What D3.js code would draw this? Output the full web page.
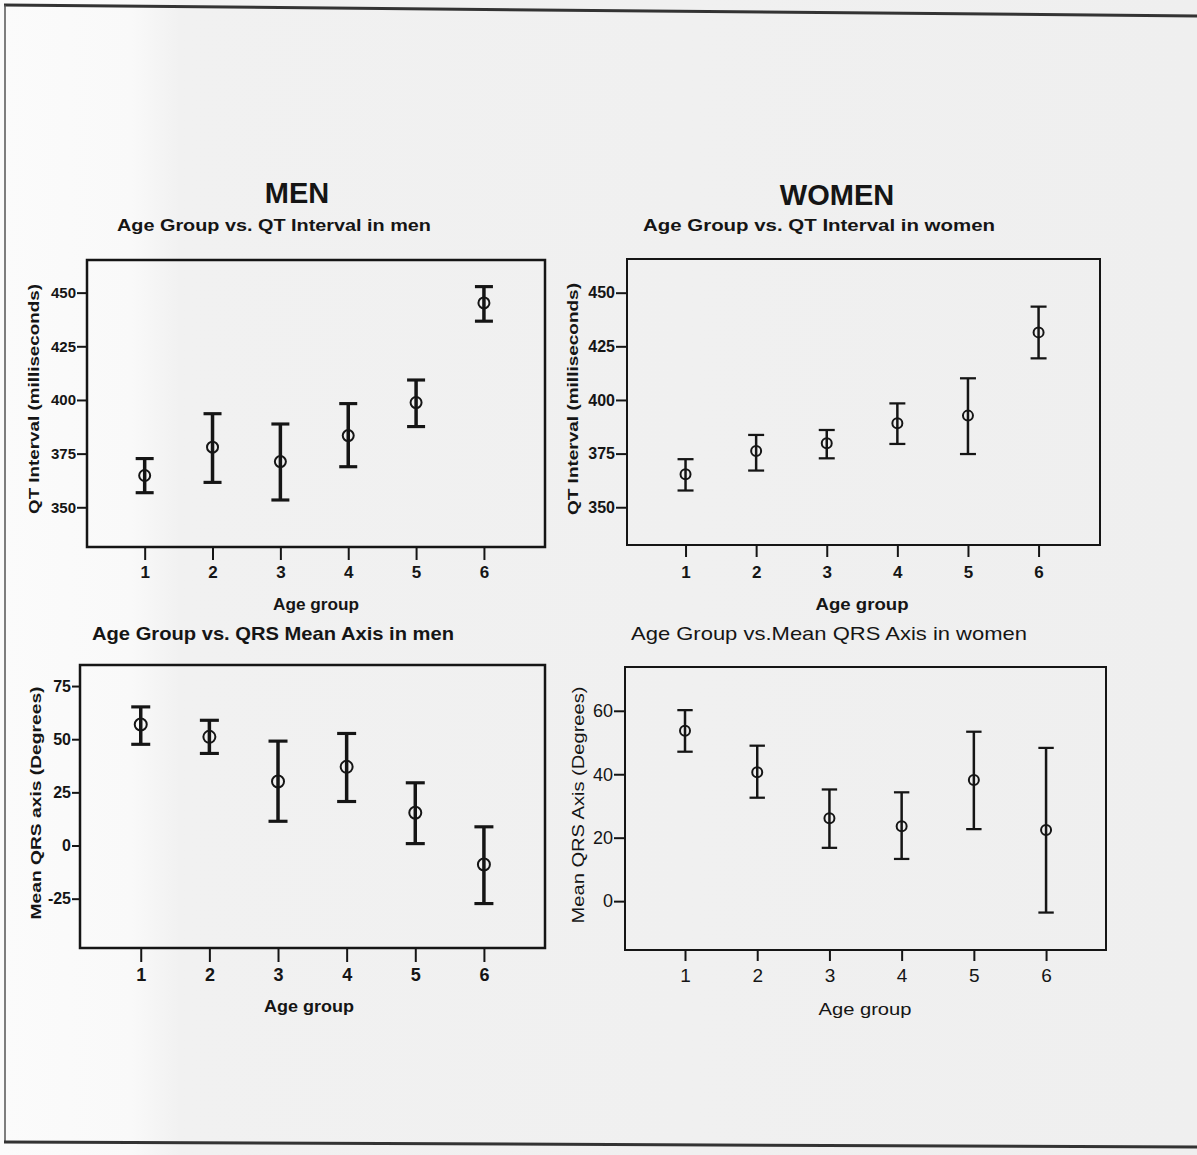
<!DOCTYPE html>
<html>
<head>
<meta charset="utf-8">
<script src="https://cdn.jsdelivr.net/npm/d3@7"></script>
<style>
  body { margin: 0; background: #f3f3f3; }
  svg { display: block; font-family: "Liberation Sans", Arial, sans-serif; }
</style>
</head>
<body>
<svg id="page" width="1197" height="1155"></svg>
<script>
// x categories
var ageGroups = [1, 2, 3, 4, 5, 6];

// QT interval (milliseconds), mean and error bar ends
var qtMenMean = [364.8, 378.0, 371.3, 383.4, 398.8, 445.2];
var qtMenLow = [356.8, 361.6, 353.4, 368.9, 387.6, 436.7];
var qtMenHigh = [372.7, 393.6, 388.8, 398.3, 409.3, 452.8];

var qtWomenMean = [365.4, 376.2, 379.8, 389.1, 392.7, 431.5];
var qtWomenLow = [357.8, 367.1, 372.8, 379.5, 374.8, 419.4];
var qtWomenHigh = [372.4, 383.7, 386.0, 398.4, 410.1, 443.5];

// mean QRS axis (degrees)
var qrsMenMean = [56.9, 51.1, 30.1, 37.0, 15.4, -8.9];
var qrsMenLow = [47.6, 43.3, 11.4, 20.7, 0.9, -27.3];
var qrsMenHigh = [65.2, 58.9, 49.1, 52.7, 29.5, 8.8];

var qrsWomenMean = [53.7, 40.6, 26.1, 23.6, 38.2, 22.4];
var qrsWomenLow = [47.1, 32.6, 16.8, 13.3, 22.7, -3.6];
var qrsWomenHigh = [60.2, 49.0, 35.2, 34.3, 53.4, 48.3];

// tick labels
var qtTicks = [350, 375, 400, 425, 450];
var qrsMenTicks = [-25, 0, 25, 50, 75];
var qrsWomenTicks = [0, 20, 40, 60];

var svg = d3.select("#page");
var ink = "#151515";

// scanned page background + frame
var defs = svg.append("defs");
var grad = defs.append("linearGradient").attr("id", "paper");
grad.append("stop").attr("offset", "0").attr("stop-color", "#fbfbfb");
grad.append("stop").attr("offset", "0.11").attr("stop-color", "#f9f9f9");
grad.append("stop").attr("offset", "0.15").attr("stop-color", "#f1f1f1");
grad.append("stop").attr("offset", "1").attr("stop-color", "#efefef");
svg.append("rect").attr("width", 1197).attr("height", 1155).attr("fill", "url(#paper)");
svg.append("line").attr("x1", 4).attr("y1", 5).attr("x2", 1197).attr("y2", 16)
    .attr("stroke", "#333").attr("stroke-width", 3);
svg.append("line").attr("x1", 5).attr("y1", 5).attr("x2", 5).attr("y2", 1143)
    .attr("stroke", "#555").attr("stroke-width", 1.5);
svg.append("line").attr("x1", 4).attr("y1", 1142).attr("x2", 1197).attr("y2", 1147)
    .attr("stroke", "#333").attr("stroke-width", 3);

// group headings
svg.append("text").attr("x", 297).attr("y", 203).attr("text-anchor", "middle")
    .attr("font-size", 29).attr("font-weight", "bold").attr("fill", ink).text("MEN");
svg.append("text").attr("x", 837).attr("y", 205).attr("text-anchor", "middle")
    .attr("font-size", 29).attr("font-weight", "bold").attr("fill", ink).text("WOMEN");

var panels = [
    {
        mean: qtMenMean, low: qtMenLow, high: qtMenHigh, yTicks: qtTicks,
        box: [87, 260, 545, 547], xDom: [0.15, 6.9], yDom: [331.5, 465.2],
        title: "Age Group vs. QT Interval in men", titleX: 274, titleY: 231, titleLen: 314, titleSize: 17, titleWeight: "bold",
        yLabel: "QT Interval (milliseconds)", yLabelX: 39, yLabelY: 399, yLabelLen: 230, yLabelSize: 14,
        xLabelX: 316, xLabelY: 610, xLabelLen: 86, labelWeight: "bold",
        tickSize: 15, xTickFont: 17, tickWeight: "bold", yTickLen: 10, xTickLen: 13, xPad: 6,
        barWidth: 3.5, capHalf: 9, r: 5.5, boxWidth: 2.5
    },
    {
        mean: qtWomenMean, low: qtWomenLow, high: qtWomenHigh, yTicks: qtTicks,
        box: [627, 259, 1100, 545], xDom: [0.171, 6.87], yDom: [332.4, 465.7],
        title: "Age Group vs. QT Interval in women", titleX: 819, titleY: 231, titleLen: 352, titleSize: 17, titleWeight: "bold",
        yLabel: "QT Interval (milliseconds)", yLabelX: 578, yLabelY: 399, yLabelLen: 232, yLabelSize: 14,
        xLabelX: 862, xLabelY: 610, xLabelLen: 93, labelWeight: "bold",
        tickSize: 16, xTickFont: 17, tickWeight: "bold", yTickLen: 11, xTickLen: 12, xPad: 9,
        barWidth: 2.5, capHalf: 8, r: 5, boxWidth: 2
    },
    {
        mean: qrsMenMean, low: qrsMenLow, high: qrsMenHigh, yTicks: qrsMenTicks,
        box: [80, 665, 545, 948], xDom: [0.115, 6.89], yDom: [-48.2, 84.9],
        title: "Age Group vs. QRS Mean Axis in men", titleX: 273, titleY: 640, titleLen: 362, titleSize: 19, titleWeight: "bold",
        yLabel: "Mean QRS axis (Degrees)", yLabelX: 41, yLabelY: 803, yLabelLen: 233, yLabelSize: 14,
        xLabelX: 309, xLabelY: 1012, xLabelLen: 90, labelWeight: "bold",
        tickSize: 16, xTickFont: 18, tickWeight: "bold", yTickLen: 8, xTickLen: 14, xPad: 6,
        barWidth: 3.5, capHalf: 9.5, r: 6, boxWidth: 2.5
    },
    {
        mean: qrsWomenMean, low: qrsWomenLow, high: qrsWomenHigh, yTicks: qrsWomenTicks,
        box: [625, 667, 1106, 950], xDom: [0.169, 6.83], yDom: [-15.4, 73.8],
        title: "Age Group vs.Mean QRS Axis in women", titleX: 829, titleY: 640, titleLen: 396, titleSize: 19, titleWeight: "normal",
        yLabel: "Mean QRS Axis (Degrees)", yLabelX: 584, yLabelY: 805, yLabelLen: 237, yLabelSize: 17,
        xLabelX: 865, xLabelY: 1015, xLabelLen: 93, labelWeight: "normal",
        tickSize: 18, xTickFont: 19, tickWeight: "normal", yTickLen: 11, xTickLen: 11, xPad: 8,
        barWidth: 2.5, capHalf: 7.7, r: 5, boxWidth: 2
    }
];

panels.forEach(draw_panel);

function draw_panel(p) {
    var g = svg.append("g");
    var x = d3.scaleLinear().domain(p.xDom).range([p.box[0], p.box[2]]);
    var y = d3.scaleLinear().domain(p.yDom).range([p.box[3], p.box[1]]);

    // plot frame
    g.append("rect")
        .attr("x", p.box[0]).attr("y", p.box[1])
        .attr("width", p.box[2] - p.box[0]).attr("height", p.box[3] - p.box[1])
        .attr("fill", "none").attr("stroke", ink).attr("stroke-width", p.boxWidth);

    // axes
    var ya = g.append("g").attr("transform", "translate(" + p.box[0] + ",0)")
        .call(d3.axisLeft(y).tickValues(p.yTicks).tickSize(p.yTickLen).tickPadding(1)
            .tickFormat(function (d) { return String(d); }));
    var xa = g.append("g").attr("transform", "translate(0," + p.box[3] + ")")
        .call(d3.axisBottom(x).tickValues(ageGroups).tickSize(p.xTickLen).tickPadding(p.xPad)
            .tickFormat(d3.format("d")));
    [ya, xa].forEach(function (a) {
        a.select(".domain").remove();
        a.attr("font-family", null).attr("font-size", null);
        a.selectAll("line").attr("stroke", ink).attr("stroke-width", 2);
        a.selectAll("text").attr("fill", ink)
            .attr("font-size", p.tickSize).attr("font-weight", p.tickWeight);
    });
    xa.selectAll("text").attr("font-size", p.xTickFont);

    // error bars
    var rows = ageGroups.map(function (a, i) {
        return { a: a, m: p.mean[i], lo: p.low[i], hi: p.high[i] };
    });
    var bars = g.selectAll(".bar").data(rows).join("g").classed("bar", true)
        .attr("stroke", ink).attr("stroke-width", p.barWidth).attr("fill", "none");
    bars.append("line")
        .attr("x1", d => x(d.a)).attr("x2", d => x(d.a))
        .attr("y1", d => y(d.lo)).attr("y2", d => y(d.hi));
    bars.append("line").attr("stroke-width", p.barWidth * 0.9)
        .attr("x1", d => x(d.a) - p.capHalf).attr("x2", d => x(d.a) + p.capHalf)
        .attr("y1", d => y(d.hi)).attr("y2", d => y(d.hi));
    bars.append("line").attr("stroke-width", p.barWidth * 0.9)
        .attr("x1", d => x(d.a) - p.capHalf).attr("x2", d => x(d.a) + p.capHalf)
        .attr("y1", d => y(d.lo)).attr("y2", d => y(d.lo));
    bars.append("circle").attr("stroke-width", 2)
        .attr("cx", d => x(d.a)).attr("cy", d => y(d.m)).attr("r", p.r);

    // labels
    g.append("text").attr("x", p.titleX).attr("y", p.titleY).attr("text-anchor", "middle")
        .attr("font-size", p.titleSize).attr("font-weight", p.titleWeight).attr("fill", ink)
        .attr("textLength", p.titleLen).attr("lengthAdjust", "spacingAndGlyphs")
        .text(p.title);
    g.append("text").attr("transform", "translate(" + p.yLabelX + "," + p.yLabelY + ") rotate(-90)")
        .attr("text-anchor", "middle").attr("font-size", p.yLabelSize).attr("font-weight", p.labelWeight)
        .attr("fill", ink).attr("textLength", p.yLabelLen).attr("lengthAdjust", "spacingAndGlyphs")
        .text(p.yLabel);
    g.append("text").attr("x", p.xLabelX).attr("y", p.xLabelY).attr("text-anchor", "middle")
        .attr("font-size", 17).attr("font-weight", p.labelWeight).attr("fill", ink)
        .attr("textLength", p.xLabelLen).attr("lengthAdjust", "spacingAndGlyphs")
        .text("Age group");
}
</script>
</body>
</html>
